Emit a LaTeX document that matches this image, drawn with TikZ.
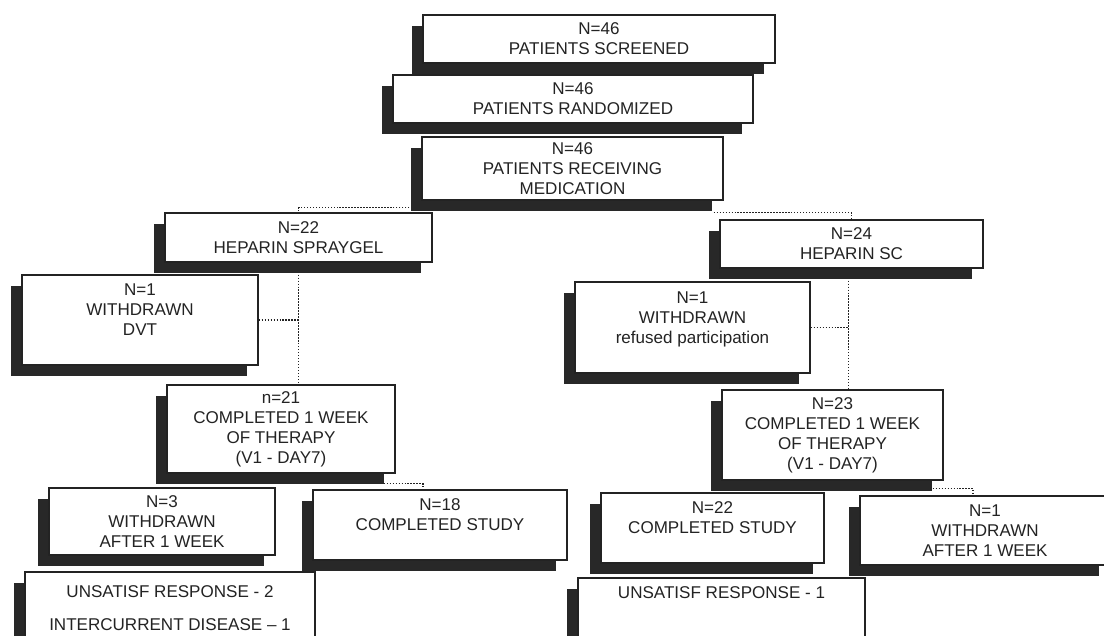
\documentclass[tikz,border=0pt]{standalone}
\usepackage{fontspec}
\setmainfont{Liberation Sans}
\usepackage{tikz}
\usetikzlibrary{shadows, backgrounds, calc}
\definecolor{boxline}{RGB}{35,35,35}
\definecolor{boxshade}{RGB}{40,40,40}
\tikzstyle{studybox} = [rectangle, draw=boxline, fill=white, line width=0.7pt,
inner sep=0pt, align=center, text=boxline,
font=\fontsize{9.7}{11.4}\selectfont,
drop shadow={shadow xshift=-0.22cm, shadow yshift=-0.22cm, fill=boxshade, opacity=1}]
\tikzstyle{link} = [densely dotted, line width=0.7pt, draw=boxline]

\begin{document}
\begin{tikzpicture}[x=0.02cm, y=-0.02cm]
    \useasboundingbox (0,0) rectangle (1104,635);

    \node (scr)  [studybox, minimum width=7.04cm, minimum height=0.96cm] at (599,39)    {N=46\\PATIENTS SCREENED};
    \node (rand) [studybox, minimum width=7.2cm,  minimum height=0.96cm] at (573,99)    {N=46\\PATIENTS RANDOMIZED};
    \node (recv) [studybox, minimum width=6.02cm, minimum height=1.26cm] at (572.5,168.5) {N=46\\PATIENTS RECEIVING\\MEDICATION};

    \node (gel)  [studybox, minimum width=5.34cm, minimum height=0.98cm] at (298.5,237.5) {N=22\\HEPARIN SPRAYGEL};
    \node (sc)   [studybox, minimum width=5.26cm, minimum height=0.96cm] at (851.5,244) {N=24\\HEPARIN SC};

    \node (dvt)  [studybox, minimum width=4.72cm, minimum height=1.8cm]  at (140,320)   {N=1\\WITHDRAWN\\DVT\\~};
    \node (refu) [studybox, minimum width=4.7cm,  minimum height=1.82cm] at (692.5,327.5) {N=1\\WITHDRAWN\\refused participation\\~};

    \node (gelweek) [studybox, minimum width=4.56cm, minimum height=1.76cm] at (281,429)   {n=21\\COMPLETED 1 WEEK\\OF THERAPY\\(V1 - DAY7)};
    \node (scweek)  [studybox, minimum width=4.42cm, minimum height=1.8cm]  at (832.5,435) {N=23\\COMPLETED 1 WEEK\\OF THERAPY\\(V1 - DAY7)};

    \node (gelout)  [studybox, minimum width=4.52cm, minimum height=1.34cm] at (162,521.5) {N=3\\WITHDRAWN\\AFTER 1 WEEK};
    \node (geldone) [studybox, minimum width=5.08cm, minimum height=1.4cm]  at (440,525)   {N=18\\COMPLETED STUDY\\~};
    \node (scdone)  [studybox, minimum width=4.46cm, minimum height=1.4cm]  at (712.5,528) {N=22\\COMPLETED STUDY\\~};
    \node (scout)   [studybox, minimum width=5.0cm,  minimum height=1.38cm] at (985,530.5) {N=1\\WITHDRAWN\\AFTER 1 WEEK};

    \node (gelwhy) [studybox, minimum width=5.8cm,  minimum height=1.46cm] at (170,608.5)   {UNSATISF RESPONSE - 2\\[7.4pt]INTERCURRENT DISEASE -- 1};
    \node (scwhy)  [studybox, minimum width=5.74cm, minimum height=1.26cm] at (721.5,609.5) {UNSATISF RESPONSE - 1\\[7.4pt]~};

    \begin{scope}[on background layer]
        \fill[white] (0,0) rectangle (1104,635);
        \draw[link] ($(recv.south west)+(-12,7)$) -| (gel.north);
        \draw[link] ($(recv.south east)+(-10,12)$) -| (sc.north);
        \draw[link] (gel.south) -- (gel.south |- gelweek.north);
        \draw[link] (dvt.east) -- (dvt.east -| gel.south);
        \draw[link] ($(sc.south)+(-3,0)$) -- ($(sc.south |- scweek.north)+(-3,0)$);
        \draw[link] (refu.east) -- ($(refu.east -| sc.south)+(-3,0)$);
        \draw[link] ($(gelweek.south east)+(-12,10)$) -| ($(geldone.north)+(-17,0)$);
        \draw[link] ($(scweek.south east)+(-11,8)$) -| ($(scout.north)+(-12,0)$);
    \end{scope}
\end{tikzpicture}
\end{document}
